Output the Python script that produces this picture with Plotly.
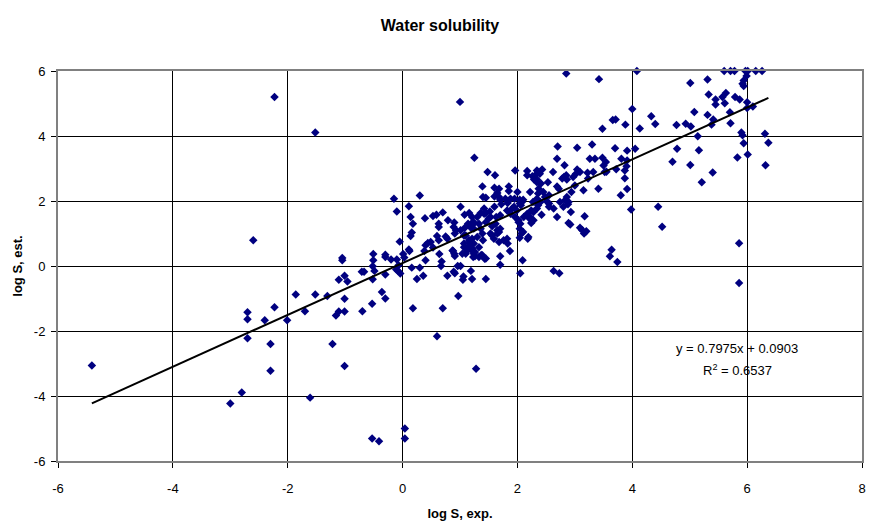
import plotly.graph_objects as go

# ---- data (log S, exp. vs log S, est.) ----
pts = [
(-5.41,-3.06),(-3.00,-4.23),(-2.80,-3.89),(-2.70,-1.42),(-2.70,-1.64),(-2.70,-2.22),(-2.60,0.79),
(-2.40,-1.67),(-2.30,-2.40),(-2.30,-3.22),(-2.23,-1.27),(-2.23,5.20),(-2.01,-1.67),(-1.86,-0.88),
(-1.70,-1.39),(-1.61,-4.05),(-1.52,-0.88),(-1.52,4.11),(-1.31,-0.92),(-1.22,-2.40),(-1.16,-1.52),
(-1.11,-1.40),(-1.11,-0.42),(-1.05,0.25),(-1.05,0.18),(-1.01,-1.40),(-1.01,-1.01),(-1.01,-3.08),
(-1.01,-0.30),(-0.96,-0.48),(-0.70,-1.39),(-0.36,-0.80),(-0.30,-1.00),(-0.53,-1.16),(-0.51,0.37),
(-0.30,0.35),(-0.30,0.28),(0.01,0.37),(0.12,0.46),(-0.51,0.18),(-0.20,0.20),(-0.10,0.20),(0.03,0.26),
(-0.52,-0.01),(-0.49,-0.15),(-0.67,-0.18),(-0.71,-0.18),(-0.52,-0.41),(-0.30,-0.26),(-0.08,-0.15),
(-0.04,-0.23),(0.16,-0.05),(0.30,-0.05),(0.40,0.18),(0.25,-0.40),(0.36,-0.30),(0.64,0.37),(0.67,0.00),
(0.68,0.14),(0.78,-0.30),(0.88,0.46),(0.91,0.31),(0.96,0.00),(1.01,0.00),(0.91,-0.22),(1.06,-0.32),
(1.05,-0.42),(1.19,-0.15),(1.21,-0.40),(1.26,0.30),(1.37,0.34),(1.43,0.22),(1.45,-0.40),(1.70,0.30),
(1.70,0.04),(1.87,0.46),(2.09,0.18),(2.05,-0.22),(2.63,-0.15),(2.73,-0.22),(0.18,-1.30),(0.70,-1.30),
(0.97,-0.92),(0.60,-2.16),(1.28,-3.16),(-0.53,-5.31),(-0.41,-5.39),(0.04,-5.00),(0.04,-5.31),
(3.61,0.30),(3.74,0.12),(3.64,0.50),(5.86,-0.52),(5.86,0.70),
(4.08,6.00),(3.42,5.75),(5.01,5.63),(5.31,5.74),(5.60,6.00),(5.71,6.00),(5.78,6.00),(5.97,6.00),
(6.01,6.00),(6.15,6.00),(6.26,6.00),(5.99,5.85),(5.94,5.71),(5.92,5.61),(5.94,5.54),(5.33,5.28),
(5.57,5.20),(5.63,5.32),(5.45,5.12),(5.45,4.97),(5.61,5.01),(5.79,5.20),(5.87,5.12),(6.00,5.04),
(6.00,4.86),(6.10,4.91),(5.08,4.74),(5.31,4.65),(5.41,4.51),(5.38,4.35),(5.70,4.73),(5.71,4.39),
(4.93,4.38),(5.02,4.29),(4.77,4.34),(4.33,4.61),(4.40,4.37),(4.13,4.23),(4.00,4.83),(3.88,4.35),
(3.66,4.49),(3.71,4.51),(3.48,4.22),(5.90,4.11),(5.92,4.02),(5.94,3.78),(6.01,3.43),(5.83,3.34),
(6.31,4.07),(6.37,3.79),(6.32,3.10),(5.14,3.99),(4.78,3.61),(5.16,3.56),(4.70,3.21),(5.01,3.11),
(5.40,2.88),(5.21,2.58),(4.05,3.61),(3.91,3.55),(3.70,3.62),(3.81,3.30),(3.91,3.25),(3.90,3.07),
(3.72,2.98),(3.48,3.33),(3.54,3.20),(3.50,3.09),(3.55,2.90),(3.87,2.70),(3.91,2.37),(3.80,2.18),
(3.41,2.38),(3.98,1.74),(4.45,1.82),(4.52,1.21),
(1.00,5.05),(2.85,5.92),(1.25,3.33),(-0.15,2.07),(-0.10,1.68),(0.30,2.17),(0.11,1.84),(0.14,1.51),
(0.18,1.30),(0.16,1.03),(0.14,0.92),(-0.05,0.75),(0.11,0.51),(0.39,1.47),(0.53,1.54),(0.59,1.58),
(0.63,1.30),(0.63,1.20),(0.70,1.65),(0.79,1.41),(0.90,1.34),(0.89,1.20),(0.93,1.10),(0.91,1.00),
(0.60,0.92),(0.63,0.79),(0.75,0.91),(0.78,0.84),(0.40,0.64),(0.44,0.71),(0.49,0.74),(0.38,0.46),
(0.53,0.57),(1.01,1.10),(1.08,1.17),(1.14,1.30),(1.07,0.94),(1.17,0.74),(1.14,0.58),(1.21,0.48),
(1.33,0.58),(1.25,1.32),(1.30,1.51),(1.36,1.63),(1.42,1.77),(1.45,1.63),(1.52,1.68),(1.40,2.12),
(1.45,2.10),(1.39,2.45),(1.48,2.89),(1.61,2.79),(1.60,2.41),(1.68,2.38),(1.60,2.14),(1.65,2.25),
(1.68,2.12),(1.85,2.45),(1.85,2.31),(1.70,2.04),(1.79,2.07),(1.88,2.07),(1.60,1.82),(1.72,1.90),
(1.53,1.51),(1.63,1.51),(1.62,1.30),(1.70,1.56),(1.56,1.22),(1.68,1.05),(1.65,1.00),(1.40,0.79),
(1.53,1.00),(1.76,0.79),(1.82,0.84),(1.96,2.94),(2.00,2.28),(1.94,1.82),(2.04,1.92),(1.99,1.71),
(2.04,2.04),(2.08,1.97),(1.88,1.61),(1.96,1.51),(2.02,1.41),(2.05,1.30),(2.07,1.00),(2.10,1.05),
(2.04,0.87),(2.18,0.84),(2.17,1.61),(2.22,1.51),(2.28,1.41),(2.24,1.32),(2.17,2.92),(2.17,2.79),
(2.34,2.94),(2.31,2.79),(2.39,2.84),(2.37,2.38),(2.41,2.54),(2.34,2.66),(2.27,1.97),(2.33,2.02),
(2.36,1.87),(2.45,2.28),(2.55,2.18),(2.48,2.12),(2.53,2.58),(2.42,1.58),(2.55,1.92),(2.55,1.82),
(2.69,1.51),(2.62,2.89),(2.69,3.30),(2.70,3.68),(2.82,3.10),(2.78,2.69),(2.85,2.79),(2.86,2.66),
(2.72,2.38),(2.69,2.45),(2.86,2.12),(2.83,2.02),(2.88,1.90),(2.80,1.82),(2.94,2.28),(2.89,1.32),
(2.92,1.28),(3.04,2.97),(3.09,2.89),(3.04,3.64),(3.30,3.74),(3.15,2.33),(3.17,1.53),(3.13,1.10),
(3.16,1.00),(3.22,2.87),(3.32,2.89),(3.26,3.30),(3.35,3.30),
(-0.11,-0.11),(-0.07,0.02),(0.87,0.48),(0.90,0.38),(0.89,-0.18),(1.10,0.38),(1.13,0.48),(1.10,0.94),
(1.16,0.79),(1.24,0.69),(1.26,0.43),(1.23,0.28),(1.22,1.35),(1.24,1.15),(1.08,1.58),(1.16,1.63),
(1.21,1.51),(1.01,1.82),(1.19,0.69),(1.21,0.54),(1.07,0.69),(1.39,0.33),(1.33,0.28),(1.45,0.23),
(1.24,0.38),(1.04,0.38),(1.42,1.61),(1.50,1.46),(1.45,1.35),(1.33,1.30),(1.19,1.18),(1.36,1.15),
(1.39,1.00),(1.30,0.89),(1.21,0.84),(1.07,0.58),(1.56,0.94),(1.65,1.10),(1.70,1.15),(1.59,0.84),
(1.68,0.74),(1.83,0.69),(2.02,1.35),(2.04,1.15),(2.19,0.89),(1.83,1.94),(1.95,2.07),(2.10,2.04),
(2.06,1.87),(1.91,1.77),(1.82,1.71),(2.22,2.28),(2.36,2.23),(2.34,2.07),(2.51,1.99),(2.40,1.97),
(2.34,1.77),(2.28,1.66),(2.24,1.71),(2.11,1.51),(2.21,1.46),(2.63,1.77),(2.74,1.97),(2.89,1.97),
(2.93,1.66),(3.00,2.48),(2.26,2.76),(2.43,2.97),(2.29,2.66),(2.34,2.58),(2.81,2.74),(3.02,2.84),
(2.97,2.74),(3.52,2.89),(3.87,2.94),(3.23,2.69),(3.09,1.18),(3.20,1.07),
]
log_s_exp = [p[0] for p in pts]
log_s_est = [p[1] for p in pts]

slope = 0.7975
intercept = 0.0903
r_squared = 0.6537

x_ticks = [-6, -4, -2, 0, 2, 4, 6, 8]
x_tick_labels = ["-6", "-4", "-2", "0", "2", "4", "6", "8"]
y_ticks = [-6, -4, -2, 0, 2, 4, 6]
y_tick_labels = ["-6", "-4", "-2", "0", "2", "4", "6"]

# trend line through the data range
x_line = [min(log_s_exp), max(log_s_exp)]
y_line = [slope * v + intercept for v in x_line]

FONT = "Liberation Sans, Arial, sans-serif"

fig = go.Figure()
fig.add_trace(go.Scatter(
    x=log_s_exp, y=log_s_est, mode="markers",
    marker=dict(symbol="diamond", size=6.5, color="#000080", line=dict(width=0)),
    showlegend=False, cliponaxis=False,
))
fig.add_trace(go.Scatter(
    x=x_line, y=y_line, mode="lines",
    line=dict(color="black", width=2), showlegend=False,
))

fig.add_annotation(x=5.83, y=-2.53, xref="x", yref="y",
                   text=f"y = {slope}x + {intercept}", showarrow=False,
                   font=dict(family=FONT, size=13, color="black"))
fig.add_annotation(x=5.83, y=-3.21, xref="x", yref="y",
                   text=f"R<sup>2</sup> = {r_squared}", showarrow=False,
                   font=dict(family=FONT, size=13, color="black"))

fig.update_layout(
    width=869, height=522,
    margin=dict(l=58, r=3, t=71, b=61),
    paper_bgcolor="white", plot_bgcolor="white",
    font=dict(family=FONT, size=13, color="black"),
    title=dict(text="<b>Water solubility</b>", x=440/869, xref="container",
               y=1 - 25/522, yref="container", xanchor="center", yanchor="middle",
               font=dict(family=FONT, size=16, color="black")),
    xaxis=dict(range=[-6, 8], tickvals=x_ticks, ticktext=x_tick_labels,
               showgrid=True, gridcolor="black", gridwidth=1,
               zeroline=False, showline=True, linecolor="#808080", linewidth=2, mirror=True,
               ticks="outside", ticklen=5, tickcolor="black", ticklabelstandoff=9,
               title=dict(text="<b>log S, exp.</b>", font=dict(family=FONT, size=13), standoff=14)),
    yaxis=dict(range=[-6, 6], tickvals=y_ticks, ticktext=y_tick_labels,
               showgrid=True, gridcolor="black", gridwidth=1,
               zeroline=False, showline=True, linecolor="#808080", linewidth=2, mirror=True,
               ticks="outside", ticklen=5, tickcolor="black", ticklabelstandoff=3,
               title=dict(text="<b>log S, est.</b>", font=dict(family=FONT, size=13), standoff=8)),
)

fig.write_html("out.html")
